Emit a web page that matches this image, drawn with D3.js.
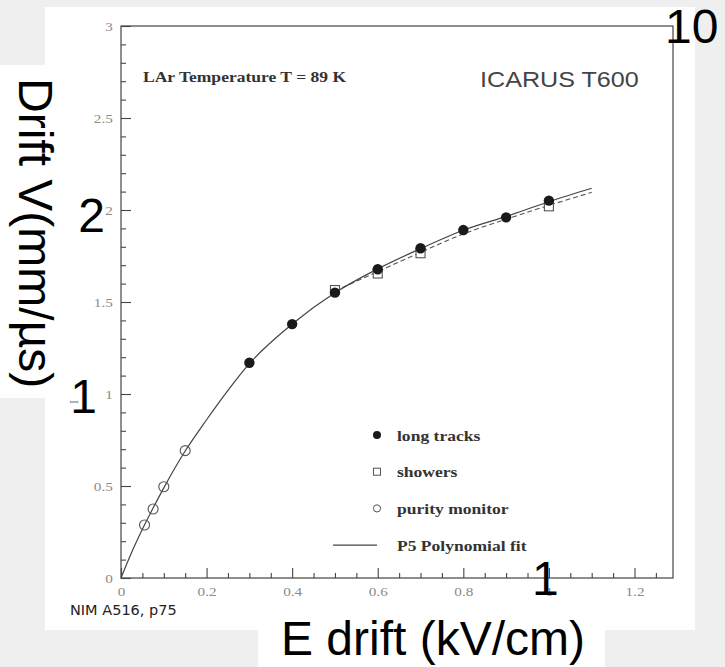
<!DOCTYPE html>
<html>
<head>
<meta charset="utf-8">
<script src="https://cdn.jsdelivr.net/npm/d3@7"></script>
<style>
  html, body { margin: 0; padding: 0; background: #efefef; }
  svg { display: block; }
</style>
</head>
<body>
<svg id="chart" width="725" height="667"></svg>
<script>
// Drift velocity of electrons in liquid argon vs. drift field (T = 89 K)
const longTracksE = [0.3, 0.4, 0.5, 0.6, 0.7, 0.8, 0.9, 1.0];
const longTracksV = [1.170, 1.380, 1.551, 1.678, 1.792, 1.891, 1.960, 2.051];

const showersE = [0.5, 0.6, 0.7, 1.0];
const showersV = [1.565, 1.655, 1.765, 2.020];

const purityE = [0.055, 0.075, 0.1, 0.15];
const purityV = [0.288, 0.375, 0.496, 0.692];

// P5 polynomial fit
const fitE = [0, 0.025, 0.05, 0.075, 0.1, 0.15, 0.2, 0.25, 0.3, 0.4, 0.5, 0.6, 0.7, 0.8, 0.9, 1.0, 1.1];
const fitV = [0, 0.14, 0.265, 0.38, 0.49, 0.69, 0.86, 1.02, 1.165, 1.38, 1.55, 1.68, 1.79, 1.89, 1.965, 2.045, 2.118];

// dashed companion fit
const dashE = [0.5, 0.6, 0.7, 0.8, 0.9, 1.0, 1.1];
const dashV = [1.56, 1.665, 1.77, 1.87, 1.95, 2.025, 2.096];

const xMajorTicks = [0, 0.2, 0.4, 0.6, 0.8, 1.0, 1.2];
const xTickLabels = ["0", "0.2", "0.4", "0.6", "0.8", "1", "1.2"];
const yMajorTicks = [0, 0.5, 1, 1.5, 2, 2.5, 3];
const yTickLabels = ["0", "0.5", "1", "1.5", "2", "2.5", "3"];

const legendLabels = ["long tracks", "showers", "purity monitor", "P5 Polynomial fit"];

const svg = d3.select("#chart");
const STRETCH = 1.17;   // the figure's own lettering is slightly wide

// paper backgrounds
svg.append("rect").attr("x", 0).attr("y", 0).attr("width", 725).attr("height", 667).attr("fill", "#efefef");
svg.append("rect").attr("x", 45).attr("y", 7).attr("width", 650).attr("height", 623).attr("fill", "#fff");
svg.append("rect").attr("x", 0).attr("y", 65).attr("width", 46).attr("height", 333).attr("fill", "#fff");
svg.append("rect").attr("x", 258).attr("y", 629).attr("width", 347).attr("height", 38).attr("fill", "#fff");

const plot = { left: 121, top: 26, right: 673, bottom: 578 };

const x = d3.scaleLinear().domain([0, 1.29]).range([plot.left, plot.right]);
const y = d3.scaleLinear().domain([0, 3]).range([plot.bottom, plot.top]);

const ink = "#444";

// minor ticks
const xMinor = d3.range(0, 1.26, 0.05).filter(v => !xMajorTicks.some(m => Math.abs(m - v) < 1e-6));
const yMinor = d3.range(0, 3.01, 0.1).filter(v => !yMajorTicks.some(m => Math.abs(m - v) < 1e-6));

const axX = svg.append("g").attr("transform", `translate(0,${plot.bottom})`)
  .call(d3.axisBottom(x).tickValues(xMajorTicks)
    .tickFormat((d, i) => xTickLabels[i])
    .tickSizeInner(-10).tickSizeOuter(0).tickPadding(9));
svg.append("g").attr("transform", `translate(0,${plot.bottom})`)
  .call(d3.axisBottom(x).tickValues(xMinor).tickFormat("").tickSizeInner(-5).tickSizeOuter(0));

const axY = svg.append("g").attr("transform", `translate(${plot.left},0)`)
  .call(d3.axisLeft(y).tickValues(yMajorTicks)
    .tickFormat((d, i) => yTickLabels[i])
    .tickSizeInner(-10).tickSizeOuter(0).tickPadding(7));
svg.append("g").attr("transform", `translate(${plot.left},0)`)
  .call(d3.axisLeft(y).tickValues(yMinor).tickFormat("").tickSizeInner(-5).tickSizeOuter(0));

svg.selectAll(".domain").remove();
svg.selectAll(".tick line").attr("stroke", ink).attr("stroke-width", 1.1);
svg.selectAll(".tick text")
  .attr("font-family", "'Liberation Serif', 'DejaVu Serif', serif")
  .attr("font-size", 13)
  .attr("fill", "#8a8a8a")
  .attr("transform", `scale(${STRETCH},1)`);

// frame
svg.append("rect")
  .attr("x", plot.left).attr("y", plot.top)
  .attr("width", plot.right - plot.left).attr("height", plot.bottom - plot.top)
  .attr("fill", "none").attr("stroke", ink).attr("stroke-width", 1.2);

// fit curves
const fitLine = d3.line().x(d => x(d[0])).y(d => y(d[1])).curve(d3.curveMonotoneX);
svg.append("path")
  .datum(dashE.map((e, i) => [e, dashV[i]]))
  .attr("d", fitLine).attr("fill", "none")
  .attr("stroke", "#555").attr("stroke-width", 1.1).attr("stroke-dasharray", "5,3");
svg.append("path")
  .datum(fitE.map((e, i) => [e, fitV[i]]))
  .attr("d", fitLine).attr("fill", "none")
  .attr("stroke", "#444").attr("stroke-width", 1.2);

// data points
svg.append("g").selectAll("rect")
  .data(showersE.map((e, i) => [e, showersV[i]]))
  .join("rect")
  .attr("x", d => x(d[0]) - 4.5).attr("y", d => y(d[1]) - 4.5)
  .attr("width", 9).attr("height", 9)
  .attr("fill", "#fff").attr("stroke", "#555").attr("stroke-width", 1.1);

svg.append("g").selectAll("circle")
  .data(purityE.map((e, i) => [e, purityV[i]]))
  .join("circle")
  .attr("cx", d => x(d[0])).attr("cy", d => y(d[1])).attr("r", 5)
  .attr("fill", "none").attr("stroke", "#555").attr("stroke-width", 1.1);

svg.append("g").selectAll("circle")
  .data(longTracksE.map((e, i) => [e, longTracksV[i]]))
  .join("circle")
  .attr("cx", d => x(d[0])).attr("cy", d => y(d[1])).attr("r", 5.2)
  .attr("fill", "#1a1a1a");

// helper for the figure's stretched lettering
function label(txt, px, py, opts) {
  return svg.append("text")
    .attr("transform", `translate(${px},${py}) scale(${opts.stretch || 1},1)`)
    .attr("font-family", opts.family)
    .attr("font-size", opts.size)
    .attr("font-weight", opts.weight || "normal")
    .attr("fill", opts.fill || "#222")
    .attr("text-anchor", opts.anchor || "start")
    .text(txt);
}

const serifBold = { family: "'Liberation Serif', 'DejaVu Serif', serif", size: 15, weight: "bold", fill: "#333", stretch: STRETCH };

label("LAr Temperature T = 89 K", 143, 82, serifBold);
label("ICARUS T600", 480, 87, { family: "'Liberation Sans', Arial, sans-serif", size: 21.5, fill: "#444", stretch: STRETCH });

// legend
const legX = 377, legText = 397, legY0 = 435, legStep = 36.7;
svg.append("circle").attr("cx", legX).attr("cy", legY0).attr("r", 4).attr("fill", "#1a1a1a");
svg.append("rect").attr("x", legX - 3.5).attr("y", legY0 + legStep - 3.5).attr("width", 7).attr("height", 7)
  .attr("fill", "none").attr("stroke", "#555").attr("stroke-width", 1);
svg.append("circle").attr("cx", legX).attr("cy", legY0 + 2 * legStep).attr("r", 3.6)
  .attr("fill", "none").attr("stroke", "#555").attr("stroke-width", 1);
svg.append("line").attr("x1", 333).attr("x2", legX).attr("y1", legY0 + 3 * legStep).attr("y2", legY0 + 3 * legStep)
  .attr("stroke", "#444").attr("stroke-width", 1.2);
legendLabels.forEach((t, i) => label(t, legText, legY0 + i * legStep + 5.5, serifBold));

// source note
label("NIM A516, p75", 70, 615, { family: "'DejaVu Sans', sans-serif", size: 14.5, fill: "#222" });

// large overlay lettering
const big = { family: "'Liberation Sans', Arial, sans-serif", size: 48, fill: "#000" };
label("10", 665, 43, big);
label("2", 105, 232, Object.assign({}, big, { anchor: "end" }));
label("1", 97, 413, Object.assign({}, big, { anchor: "end" }));
label("1", 532, 595, big);
label("E drift (kV/cm)", 281, 655, big);
svg.append("text")
  .attr("transform", "translate(19,78) rotate(90)")
  .attr("font-family", big.family).attr("font-size", big.size).attr("fill", "#000")
  .text("Drift V(mm/\u00b5s)");
svg.append("text")
  .attr("transform", "translate(70,402) rotate(90)")
  .attr("font-family", "'Liberation Serif', serif").attr("font-size", 12).attr("fill", "#777")
  .attr("text-anchor", "middle")
  .text("I");
</script>
</body>
</html>
